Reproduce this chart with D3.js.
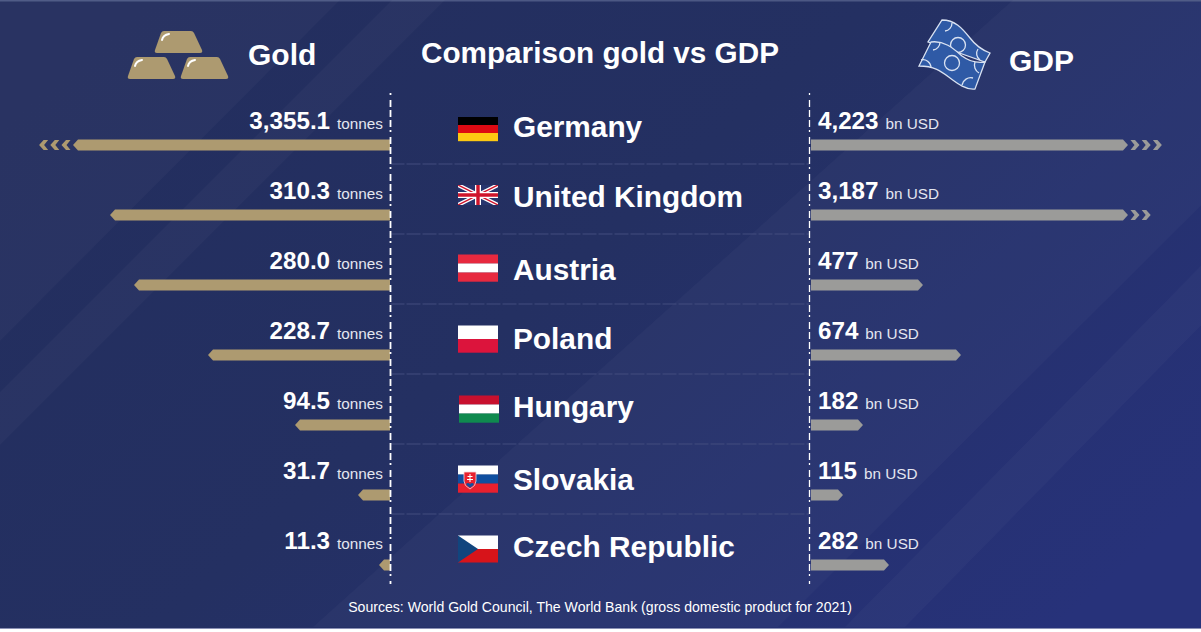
<!DOCTYPE html>
<html>
<head>
<meta charset="utf-8">
<script src="https://cdn.jsdelivr.net/npm/d3@7"></script>
<style>
  html, body { margin: 0; padding: 0; background: #fff; }
  text { font-family: "Liberation Sans", Arial, sans-serif; fill: #fff; }
</style>
</head>
<body>
<svg id="chart" width="1201" height="632"></svg>
<script>
const countries = ["Germany", "United Kingdom", "Austria", "Poland", "Hungary", "Slovakia", "Czech Republic"];
const goldLabels = ["3,355.1", "310.3", "280.0", "228.7", "94.5", "31.7", "11.3"];
const gdpLabels = ["4,223", "3,187", "477", "674", "182", "115", "282"];
// bar lengths as drawn in the picture (the two long bars are cut and get chevrons)
const goldDrawn = [317, 280, 256, 182, 95, 32, 11];
const gdpDrawn = [317, 317, 112, 150, 52, 32, 78];
const goldOverflow = [3, 0, 0, 0, 0, 0, 0];
const gdpOverflow = [3, 2, 0, 0, 0, 0, 0];
// small per-row nudges of the centre column
const nameNudge = [-8, -8, -5, -6, -8, -5, -8];
const flagNudge = [-16, -20, -17, -16, -16, -16, -16];

const goldColor = "#ad9a70";
const gdpColor = "#9b9b99";
const axisLeft = 390.5;
const axisRight = 809.5;

const svg = d3.select("#chart");
const defs = svg.append("defs");

const bg = defs.append("linearGradient").attr("id", "bg")
  .attr("x1", 0).attr("y1", 0.2).attr("x2", 1).attr("y2", 0.8);
bg.append("stop").attr("offset", 0).attr("stop-color", "#232e5e");
bg.append("stop").attr("offset", 0.45).attr("stop-color", "#243062");
bg.append("stop").attr("offset", 1).attr("stop-color", "#27327a");

svg.append("rect").attr("width", 1201).attr("height", 629).attr("fill", "url(#bg)");
svg.append("rect").attr("width", 1201).attr("height", 1.5).attr("fill", "#4c5884");
svg.append("rect").attr("y", 628).attr("width", 1201).attr("height", 1).attr("fill", "#8a90b4");

// diagonal light bands of the background: x of both edges at the top and at the bottom
const bands = [[-10, 340, -640, -285], [392, 445, -235, -182], [1013, 1407, 313, 778], [1463, 1520, 845, 905]];
svg.append("g").selectAll("path").data(bands).join("path")
  .attr("d", d => `M${d[0]},0 L${d[1]},0 L${d[3]},627 L${d[2]},627 Z`)
  .attr("fill", "#fff").attr("opacity", 0.026);

const rowY = d3.scaleBand().domain(countries).range([110, 600]);
const center = c => rowY(c) + rowY.bandwidth() / 2;
const goldX = d3.scaleLinear().domain([0, 350]).range([390, 40]);
const gdpX = d3.scaleLinear().domain([0, 350]).range([811, 1161]);
const barH = 11;

// separators between rows
svg.append("g").selectAll("line").data(countries.slice(0, -1)).join("line")
  .attr("x1", axisLeft).attr("x2", axisRight)
  .attr("y1", d => center(d) + 19)
  .attr("y2", d => center(d) + 19)
  .attr("stroke", "#424c7e").attr("stroke-width", 1).attr("stroke-dasharray", "14 2");

function barPath(x0, x1, y) {
  const dir = x1 < x0 ? -1 : 1;
  const tip = Math.min(5, Math.abs(x1 - x0));
  return `M${x0},${y - barH / 2} L${x1 - dir * tip},${y - barH / 2} L${x1},${y} L${x1 - dir * tip},${y + barH / 2} L${x0},${y + barH / 2} Z`;
}

svg.append("g").selectAll("path").data(countries).join("path")
  .attr("d", (c, i) => barPath(goldX(0), goldX(goldDrawn[i]), center(c)))
  .attr("fill", goldColor);

svg.append("g").selectAll("path").data(countries).join("path")
  .attr("d", (c, i) => barPath(gdpX(0), gdpX(gdpDrawn[i]), center(c)))
  .attr("fill", gdpColor);

// chevrons past the cut bars
function chevrons(counts, scale, drawn, dir, color) {
  const items = counts.flatMap((n, i) => d3.range(n).map(k => ({ i, k })));
  svg.append("g").selectAll("path").data(items).join("path")
    .attr("d", d => {
      const y = center(countries[d.i]);
      const x = scale(drawn[d.i]) + dir * (2.5 + d.k * 11.2);
      return `M${x},${y - 5} h${dir * 4.5} l${dir * 4.5},5 l${-dir * 4.5},5 h${-dir * 4.5} l${dir * 4},-5 Z`;
    })
    .attr("fill", color);
}
chevrons(goldOverflow, goldX, goldDrawn, -1, goldColor);
chevrons(gdpOverflow, gdpX, gdpDrawn, 1, gdpColor);

// dashed verticals
svg.append("g").selectAll("line").data([axisLeft, axisRight]).join("line")
  .attr("x1", d => d).attr("x2", d => d).attr("y1", 93).attr("y2", 584)
  .attr("stroke", "#fff").attr("stroke-width", (d, i) => i ? 1.3 : 1.8)
  .attr("stroke-dasharray", "2 5 7 3 7 3 7 3");

// value labels
function valueLabels(labels, unit, x, anchor, dy) {
  const t = svg.append("g").selectAll("text").data(countries).join("text")
    .attr("x", x).attr("y", c => center(c) - dy).attr("text-anchor", anchor);
  t.append("tspan").attr("font-size", 24.2).attr("font-weight", 700).text((c, i) => labels[i]);
  t.append("tspan").attr("dx", 7).attr("font-size", 15.3).attr("fill", "#e4e6f0").text(unit);
}
valueLabels(goldLabels, "tonnes", 383, "end", 16.5);
valueLabels(gdpLabels, "bn USD", 818, "start", 16.5);

// country names
svg.append("g").selectAll("text").data(countries).join("text")
  .attr("x", 513).attr("y", (c, i) => center(c) + nameNudge[i])
  .attr("font-size", 29.8).attr("font-weight", 700).text(c => c);

// flags
const flagX = 458, flagW = 40;
const stripes = {
  "Germany": ["#000000", "#dd0a12", "#fdc912"],
  "Austria": ["#e7293f", "#ffffff", "#e7293f"],
  "Poland": ["#ffffff", "#dc143c"],
  "Hungary": ["#c8102e", "#ffffff", "#0f8a4f"],
  "Slovakia": ["#ffffff", "#0f4fa0", "#e8202e"]
};
countries.forEach((c, i) => {
  const h = c === "United Kingdom" ? 20 : c === "Germany" ? 24 : 27;
  const x = flagX + (c === "Hungary" ? 1 : 0);
  const y = center(c) + flagNudge[i] - h / 2;
  const g = svg.append("g").attr("transform", `translate(${x},${y})`);
  if (stripes[c]) {
    const rows = stripes[c];
    g.selectAll("rect").data(rows).join("rect")
      .attr("y", (d, k) => k * h / rows.length).attr("width", flagW)
      .attr("height", h / rows.length + 0.2).attr("fill", d => d);
  }
  if (c === "Slovakia") {
    g.append("path").attr("d", "M6,6.5 h12 v9 q0,5 -6,8 q-6,-3 -6,-8 Z")
      .attr("fill", "#e8202e").attr("stroke", "#f2d7da").attr("stroke-width", 0.8);
    g.append("path").attr("d", "M12,8.5 v8 M9.5,11 h5 M9,14 h6").attr("stroke", "#fff").attr("stroke-width", 1);
    g.append("path").attr("d", "M8,18.5 q2,-2 4,0 q2,-2 4,0 q-1,2 -4,3.5 q-3,-1.5 -4,-3.5 Z").attr("fill", "#0f4fa0");
  }
  if (c === "Czech Republic") {
    g.append("rect").attr("width", flagW).attr("height", h / 2).attr("fill", "#fff");
    g.append("rect").attr("y", h / 2).attr("width", flagW).attr("height", h / 2).attr("fill", "#d7141a");
    g.append("path").attr("d", `M0,0 L${flagW / 2},${h / 2} L0,${h} Z`).attr("fill", "#11457e");
  }
  if (c === "United Kingdom") {
    defs.append("clipPath").attr("id", "uk").append("rect").attr("width", flagW).attr("height", h);
    const u = g.append("g").attr("clip-path", "url(#uk)");
    u.append("rect").attr("width", flagW).attr("height", h).attr("fill", "#27356e");
    u.append("path").attr("d", `M0,0 L${flagW},${h} M${flagW},0 L0,${h}`).attr("stroke", "#fff").attr("stroke-width", 4);
    u.append("path").attr("d", `M0,0 L${flagW},${h} M${flagW},0 L0,${h}`).attr("stroke", "#cf142b").attr("stroke-width", 1.4);
    u.append("path").attr("d", `M${flagW / 2},0 V${h} M0,${h / 2} H${flagW}`).attr("stroke", "#fff").attr("stroke-width", 6);
    u.append("path").attr("d", `M${flagW / 2},0 V${h} M0,${h / 2} H${flagW}`).attr("stroke", "#cf142b").attr("stroke-width", 3.4);
  }
});

// header
svg.append("text").attr("x", 421).attr("y", 63).attr("font-size", 29.7).attr("font-weight", 700)
  .text("Comparison gold vs GDP");
svg.append("text").attr("x", 248).attr("y", 65).attr("font-size", 30).attr("font-weight", 700).text("Gold");
svg.append("text").attr("x", 1009).attr("y", 71).attr("font-size", 30).attr("font-weight", 700).text("GDP");

// footnote
svg.append("text").attr("x", 600).attr("y", 612).attr("text-anchor", "middle").attr("font-size", 14.1)
  .attr("fill", "#eef0f6").text("Sources: World Gold Council, The World Bank (gross domestic product for 2021)");

// gold icon
[[155, 31], [128, 57], [181, 57]].forEach(p => {
  const g = svg.append("g").attr("transform", `translate(${p[0]},${p[1]})`);
  g.append("path").attr("d", "M9,0 H36 Q38,0 39,2 L47,19 Q48,22 45,22 H2 Q-1,22 0,19 L6,2 Q7,0 9,0 Z").attr("fill", goldColor);
  g.append("path").attr("d", "M7,9 Q8,4 14,3").attr("fill", "none").attr("stroke", "#fff").attr("stroke-width", 2).attr("stroke-linecap", "round");
});

// banknote icon
const note = svg.append("g").attr("fill", "#2f5aa6").attr("stroke", "#d9e2f2").attr("stroke-width", 1.3);
note.append("path").attr("d", "M942,20 C955,20 962,28 970,38 C976,46 982,50 990,53 L985,62 L928,42 Z");
const backLines = note.append("g").attr("fill", "none");
backLines.append("circle").attr("cx", 958).attr("cy", 45).attr("r", 7.5);
backLines.append("path").attr("d", "M952,23 A8,8 0 0 1 945,31");
backLines.append("path").attr("d", "M978,49 A8,8 0 0 0 980,60");
note.append("path").attr("d", "M931,42 C945,40 955,50 962,56 C970,62 978,63 985,62 L975,89 C966,90 958,84 950,78 C942,72 935,66 919,66 Z");
const noteLines = note.append("g").attr("fill", "none");
noteLines.append("circle").attr("cx", 952).attr("cy", 63).attr("r", 7.5);
noteLines.append("path").attr("d", "M940,42 A8,8 0 0 1 933,50");
noteLines.append("path").attr("d", "M921,60 A8,8 0 0 1 931,67");
noteLines.append("path").attr("d", "M962,85 A9,9 0 0 1 973,78");
noteLines.append("path").attr("d", "M979,73 A9,9 0 0 1 975,62");
</script>
</body>
</html>
